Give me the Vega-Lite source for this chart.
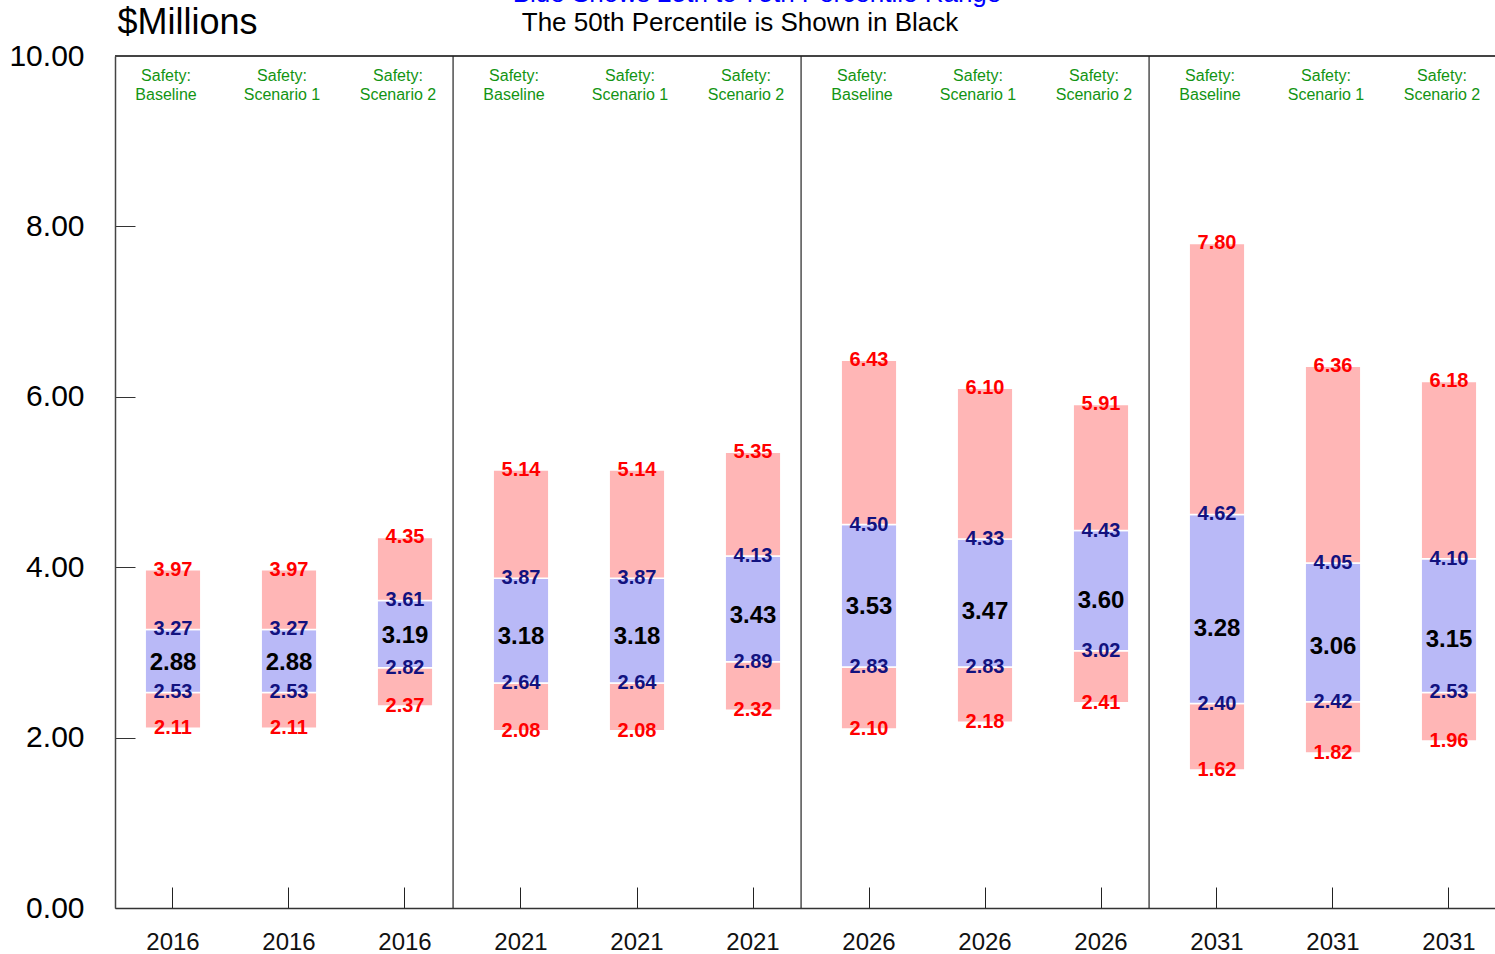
{
  "$schema": "https://vega.github.io/schema/vega-lite/v6.json",
  "width": 1380,
  "height": 852,
  "autosize": "none",
  "padding": {"left": 115, "top": 56, "right": 0, "bottom": 46},
  "background": "white",
  "config": {"view": {"stroke": null}, "font": "Liberation Sans"},
  "data": {
    "values": [
      {"bar": "2016 Baseline", "year": "2016", "scen": "Baseline", "label": "Safety:\nBaseline", "p10": 2.11, "p25": 2.53, "p50": 2.88, "p75": 3.27, "p90": 3.97},
      {"bar": "2016 Scenario 1", "year": "2016", "scen": "Scenario 1", "label": "Safety:\nScenario 1", "p10": 2.11, "p25": 2.53, "p50": 2.88, "p75": 3.27, "p90": 3.97},
      {"bar": "2016 Scenario 2", "year": "2016", "scen": "Scenario 2", "label": "Safety:\nScenario 2", "p10": 2.37, "p25": 2.82, "p50": 3.19, "p75": 3.61, "p90": 4.35},
      {"bar": "2021 Baseline", "year": "2021", "scen": "Baseline", "label": "Safety:\nBaseline", "p10": 2.08, "p25": 2.64, "p50": 3.18, "p75": 3.87, "p90": 5.14},
      {"bar": "2021 Scenario 1", "year": "2021", "scen": "Scenario 1", "label": "Safety:\nScenario 1", "p10": 2.08, "p25": 2.64, "p50": 3.18, "p75": 3.87, "p90": 5.14},
      {"bar": "2021 Scenario 2", "year": "2021", "scen": "Scenario 2", "label": "Safety:\nScenario 2", "p10": 2.32, "p25": 2.89, "p50": 3.43, "p75": 4.13, "p90": 5.35},
      {"bar": "2026 Baseline", "year": "2026", "scen": "Baseline", "label": "Safety:\nBaseline", "p10": 2.10, "p25": 2.83, "p50": 3.53, "p75": 4.50, "p90": 6.43},
      {"bar": "2026 Scenario 1", "year": "2026", "scen": "Scenario 1", "label": "Safety:\nScenario 1", "p10": 2.18, "p25": 2.83, "p50": 3.47, "p75": 4.33, "p90": 6.10},
      {"bar": "2026 Scenario 2", "year": "2026", "scen": "Scenario 2", "label": "Safety:\nScenario 2", "p10": 2.41, "p25": 3.02, "p50": 3.60, "p75": 4.43, "p90": 5.91},
      {"bar": "2031 Baseline", "year": "2031", "scen": "Baseline", "label": "Safety:\nBaseline", "p10": 1.62, "p25": 2.40, "p50": 3.28, "p75": 4.62, "p90": 7.80},
      {"bar": "2031 Scenario 1", "year": "2031", "scen": "Scenario 1", "label": "Safety:\nScenario 1", "p10": 1.82, "p25": 2.42, "p50": 3.06, "p75": 4.05, "p90": 6.36},
      {"bar": "2031 Scenario 2", "year": "2031", "scen": "Scenario 2", "label": "Safety:\nScenario 2", "p10": 1.96, "p25": 2.53, "p50": 3.15, "p75": 4.10, "p90": 6.18}
    ]
  },
  "layer": [
    {
      "mark": {"type": "rule", "color": "#444444", "strokeWidth": 1.5},
      "encoding": {"y": {"datum": 10, "type": "quantitative"}}
    },
    {
      "encoding": {
        "x": {
          "field": "bar",
          "type": "nominal",
          "sort": null,
          "scale": {"range": [0, 1392], "paddingInner": 0.52, "paddingOuter": 0.26},
          "axis": {
            "title": null,
            "labelAngle": 0,
            "labelExpr": "split(datum.label, ' ')[0]",
            "labelFontSize": 24,
            "labelColor": "#111111",
            "labelFont": "Liberation Sans",
            "tickSize": -21,
            "labelPadding": 43,
            "tickColor": "#222222",
            "tickWidth": 1,
            "domainColor": "#333333",
            "domainWidth": 1.5,
            "grid": false
          }
        }
      },
      "layer": [
        {
          "mark": {"type": "bar", "color": "#ffb6b6", "stroke": "white", "strokeWidth": 1.5},
          "encoding": {
            "y": {
              "field": "p10",
              "type": "quantitative",
              "scale": {"domain": [0, 10], "nice": false, "zero": true},
              "axis": {
                "values": [0, 2, 4, 6, 8, 10],
                "format": ".2f",
                "title": "$Millions",
                "titleAngle": 0,
                "titleAlign": "left",
                "titleBaseline": "middle",
                "titleX": 2,
                "titleY": -34,
                "titleFontSize": 36,
                "titleFontWeight": "normal",
                "titleFont": "Liberation Sans",
                "titleColor": "#000000",
                "labelFontSize": 30,
                "labelColor": "#000000",
                "labelFont": "Liberation Sans",
                "tickSize": -20,
                "labelPadding": 51,
                "tickColor": "#333333",
                "domainColor": "#444444",
                "domainWidth": 1.5,
                "grid": false
              }
            },
            "y2": {"field": "p25"}
          }
        },
        {
          "mark": {"type": "bar", "color": "#b9b9f7", "stroke": "white", "strokeWidth": 1.5},
          "encoding": {
            "y": {"field": "p25", "type": "quantitative"},
            "y2": {"field": "p75"}
          }
        },
        {
          "mark": {"type": "bar", "color": "#ffb6b6", "stroke": "white", "strokeWidth": 1.5},
          "encoding": {
            "y": {"field": "p75", "type": "quantitative"},
            "y2": {"field": "p90"}
          }
        },
        {
          "transform": [{"filter": "datum.scen == 'Baseline' && datum.year != '2016'"}],
          "mark": {"type": "rule", "color": "#222222", "strokeWidth": 1.2},
          "encoding": {
            "x": {"field": "bar", "type": "nominal", "sort": null, "bandPosition": -0.72},
            "y": {"datum": 0, "type": "quantitative"},
            "y2": {"datum": 10}
          }
        },
        {
          "mark": {"type": "text", "color": "#ff0000", "fontWeight": "bold", "fontSize": 20, "baseline": "middle", "font": "Liberation Sans"},
          "encoding": {
            "y": {"field": "p90", "type": "quantitative"},
            "text": {"field": "p90", "type": "quantitative", "format": ".2f"}
          }
        },
        {
          "mark": {"type": "text", "color": "#ff0000", "fontWeight": "bold", "fontSize": 20, "baseline": "middle", "font": "Liberation Sans"},
          "encoding": {
            "y": {"field": "p10", "type": "quantitative"},
            "text": {"field": "p10", "type": "quantitative", "format": ".2f"}
          }
        },
        {
          "mark": {"type": "text", "color": "#12127f", "fontWeight": "bold", "fontSize": 20, "baseline": "middle", "font": "Liberation Sans"},
          "encoding": {
            "y": {"field": "p75", "type": "quantitative"},
            "text": {"field": "p75", "type": "quantitative", "format": ".2f"}
          }
        },
        {
          "mark": {"type": "text", "color": "#12127f", "fontWeight": "bold", "fontSize": 20, "baseline": "middle", "font": "Liberation Sans"},
          "encoding": {
            "y": {"field": "p25", "type": "quantitative"},
            "text": {"field": "p25", "type": "quantitative", "format": ".2f"}
          }
        },
        {
          "mark": {"type": "text", "color": "#000000", "fontWeight": "bold", "fontSize": 24, "baseline": "middle", "font": "Liberation Sans"},
          "encoding": {
            "y": {"field": "p50", "type": "quantitative"},
            "text": {"field": "p50", "type": "quantitative", "format": ".2f"}
          }
        },
        {
          "mark": {"type": "text", "color": "#139413", "fontSize": 16, "baseline": "middle", "lineBreak": "\n", "lineHeight": 19, "dx": -7, "font": "Liberation Sans"},
          "encoding": {
            "y": {"datum": 9.77, "type": "quantitative"},
            "text": {"field": "label"}
          }
        }
      ]
    },
    {
      "data": {"values": [{"line": "Blue Shows 25th to 75th Percentile Range"}]},
      "mark": {"type": "text", "color": "#0000ff", "fontSize": 26, "baseline": "middle", "align": "center", "dx": 4, "font": "Liberation Sans"},
      "encoding": {
        "x": {"datum": "2021 Scenario 2", "type": "nominal"},
        "y": {"datum": 10.73, "type": "quantitative"},
        "text": {"field": "line"}
      }
    },
    {
      "data": {"values": [{"line": "The 50th Percentile is Shown in Black"}]},
      "mark": {"type": "text", "color": "#000000", "fontSize": 26, "baseline": "middle", "align": "center", "dx": -13, "font": "Liberation Sans"},
      "encoding": {
        "x": {"datum": "2021 Scenario 2", "type": "nominal"},
        "y": {"datum": 10.39, "type": "quantitative"},
        "text": {"field": "line"}
      }
    }
  ]
}
